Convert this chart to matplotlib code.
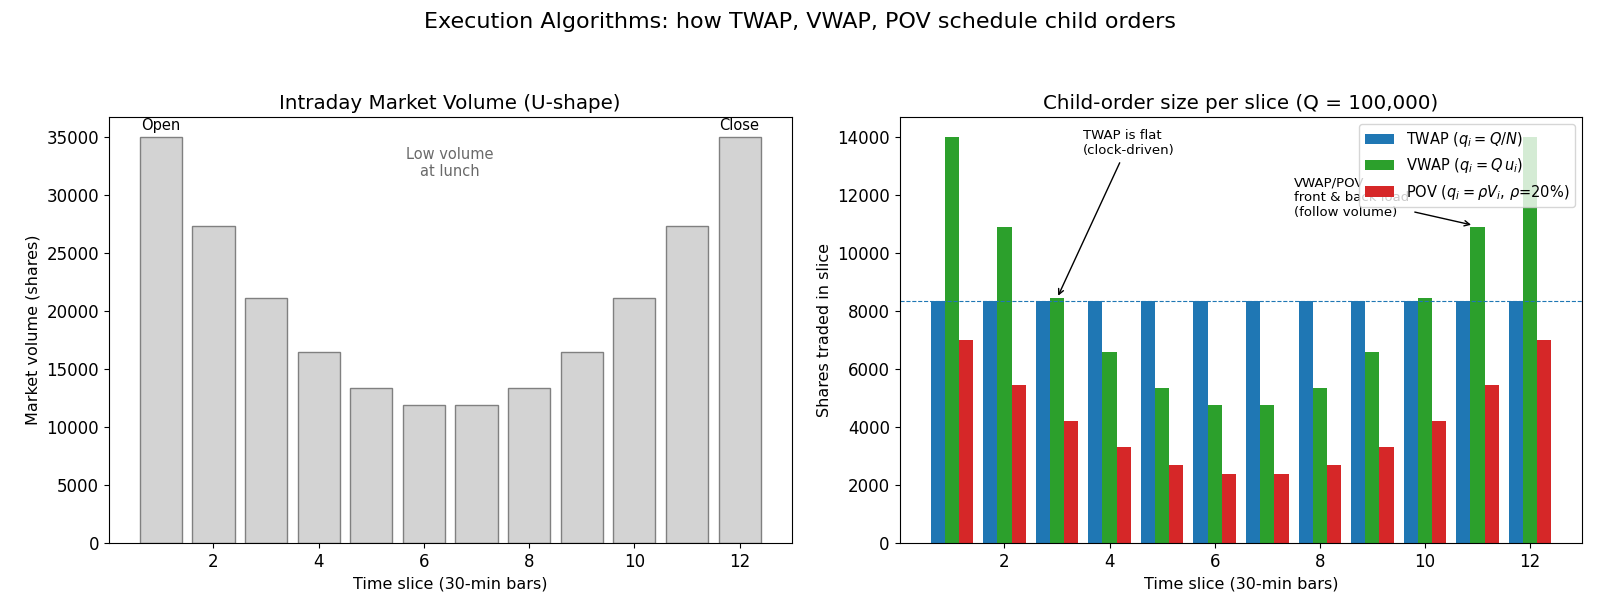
import matplotlib
matplotlib.use("Agg")
import matplotlib.pyplot as plt
import numpy as np

# data
slices = np.arange(1, 13)
volume = [35000, 27300, 21100, 16500, 13400, 11900, 11900, 13400, 16500, 21100, 27300, 35000]
Q = 100000
twap = [8333] * 12
vwap = [13980, 10900, 8430, 6590, 5350, 4750, 4750, 5350, 6590, 8430, 10900, 13980]
pov = [7000, 5460, 4220, 3300, 2680, 2380, 2380, 2680, 3300, 4220, 5460, 7000]

plt.rcParams['xtick.labelsize'] = 12
plt.rcParams['ytick.labelsize'] = 12
plt.rcParams['axes.labelsize'] = 11.5

fig, (ax1, ax2) = plt.subplots(1, 2, figsize=(16, 6.15), dpi=100)
fig.suptitle('Execution Algorithms: how TWAP, VWAP, POV schedule child orders', fontsize=16)

# left: market volume
ax1.bar(slices, volume, width=0.8, color='lightgray', edgecolor='gray')
ax1.set_title('Intraday Market Volume (U-shape)', fontsize=14.3)
ax1.set_xlabel('Time slice (30-min bars)')
ax1.set_ylabel('Market volume (shares)')
ax1.text(1, 35400, 'Open', ha='center', va='bottom', fontsize=10.5)
ax1.text(12, 35400, 'Close', ha='center', va='bottom', fontsize=10.5)
ax1.text(6.5, 32750, 'Low volume\nat lunch', ha='center', va='center', fontsize=10.5, color='dimgray')

# right: child orders
w = 0.27
ax2.bar(slices - w, twap, width=w, color='C0', label=r'TWAP ($q_i = Q/N$)')
ax2.bar(slices, vwap, width=w, color='C2', label=r'VWAP ($q_i = Q\,u_i$)')
ax2.bar(slices + w, pov, width=w, color='C3', label=r'POV ($q_i = \rho V_i$, $\rho$=20%)')
ax2.axhline(Q / 12, color='C0', ls='--', lw=0.8)
ax2.set_title('Child-order size per slice (Q = 100,000)', fontsize=14.3)
ax2.set_xlabel('Time slice (30-min bars)')
ax2.set_ylabel('Shares traded in slice')

ax2.annotate('TWAP is flat\n(clock-driven)', xy=(3, 8430), xytext=(3.49, 13280),
             ha='left', va='bottom', fontsize=9.5,
             arrowprops=dict(arrowstyle='->', color='black', lw=1))
ax2.annotate('VWAP/POV\nfront & back load\n(follow volume)', xy=(10.93, 10940), xytext=(7.51, 11150),
             ha='left', va='bottom', fontsize=9.5,
             arrowprops=dict(arrowstyle='->', color='black', lw=1))
ax2.legend(loc='upper right', fontsize=10.5)

fig.subplots_adjust(left=0.068, right=0.989, wspace=0.158, top=0.810, bottom=0.117)
fig.savefig('out.png')
